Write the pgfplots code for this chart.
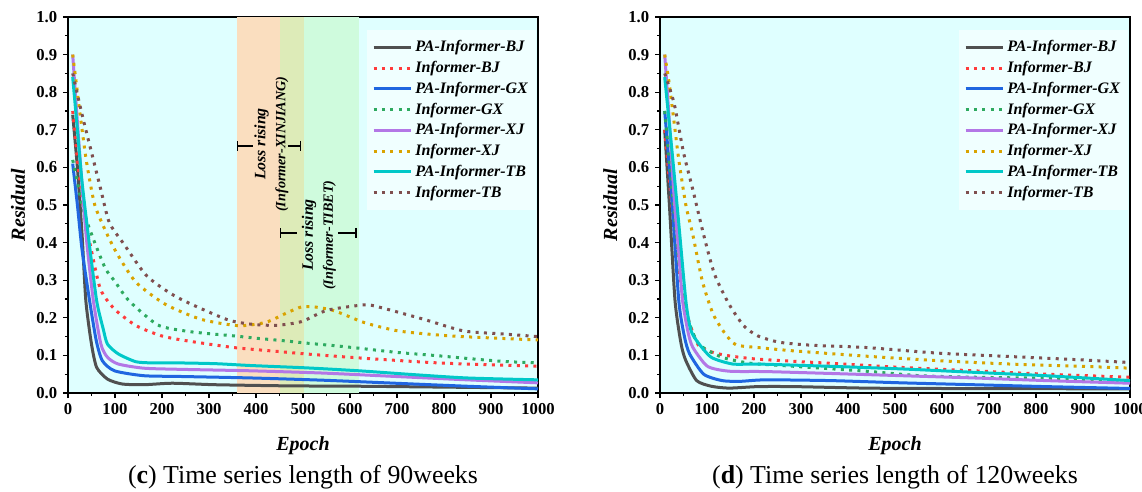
\documentclass[border=0pt]{standalone}
\usepackage{fontspec}
\setmainfont{Liberation Serif}
\usepackage{pgfplots}
\pgfplotsset{compat=1.18}
\usetikzlibrary{arrows.meta}

\definecolor{cbj}{HTML}{505050}
\definecolor{cbjd}{HTML}{FF3B3B}
\definecolor{cgx}{HTML}{1F66E0}
\definecolor{cgxd}{HTML}{2EAA60}
\definecolor{cxj}{HTML}{B377E6}
\definecolor{cxjd}{HTML}{D9A300}
\definecolor{ctb}{HTML}{00C8C8}
\definecolor{ctbd}{HTML}{7F4F4F}
\definecolor{bgcyan}{HTML}{DFFFFF}
\definecolor{legbg}{HTML}{F0FFFF}
\definecolor{bandor}{HTML}{FADEBF}
\definecolor{bandol}{HTML}{DDEBB8}
\definecolor{bandgr}{HTML}{CFFBDD}

\pgfplotsset{
  resid/.style={
    scale only axis, width=282pt, height=225.6pt,
    xmin=0, xmax=1000, ymin=0, ymax=1,
    xtick={0,100,...,1000}, ytick={0,0.1,...,1.0},
    minor x tick num=1, minor y tick num=1,
    xtick pos=bottom, ytick pos=left, tick align=outside,
    major tick length=3pt, minor tick length=1.8pt,
    every tick/.style={black, line width=0.8pt},
    axis line style={line width=0.9pt},
    axis background/.style={fill=bgcyan},
    /pgf/number format/assume math mode=true,
    tick label style={font=\fontsize{10}{12}\selectfont\bfseries},
    yticklabel style={/pgf/number format/.cd, fixed, fixed zerofill, precision=1},
    xticklabel style={/pgf/number format/.cd, fixed, 1000 sep={}},
    xlabel={Epoch}, ylabel={Residual},
    label style={font=\fontsize{12}{14}\selectfont\bfseries\itshape},
    xlabel style={at={(axis description cs:0.5,-0.141)}, anchor=center},
    ylabel style={at={(axis description cs:-0.106,0.5)}, anchor=center},
    legend style={at={(0.997,0.965)}, anchor=north east, draw=none, fill=legbg,
      font=\fontsize{9.6}{11}\selectfont\bfseries\itshape, row sep=0.2pt,
      inner xsep=3pt, inner ysep=4pt},
    legend cell align=left,
    legend image post style={xscale=1.3},
    clip=false,
  },
  pa/.style={line width=1.8pt, smooth, tension=0.4},
  inf/.style={line width=1.8pt, smooth, tension=0.4, dash pattern=on 1.8pt off 3.2pt},
}

\begin{document}
\begin{tikzpicture}
\path[use as bounding box] (-40.8pt,-58.8pt) rectangle (644.4pt,235.8pt);

% (c) 90 weeks
\begin{axis}[resid, at={(0pt,0pt)}, anchor=origin]
\fill[bandor] (axis cs:360,0) rectangle (axis cs:450,1);
\fill[bandol] (axis cs:450,0) rectangle (axis cs:502,1);
\fill[bandgr] (axis cs:502,0) rectangle (axis cs:620,1);

\addplot[pa, cbj] coordinates {(10,0.74) (20,0.6) (30,0.42) (38,0.245) (50,0.13) (61,0.068) (84,0.037) (115,0.024) (161,0.022) (222,0.026) (314,0.022) (467,0.019) (620,0.018) (773,0.016) (1000,0.013)};
\addlegendentry{PA-Informer-BJ}
\addplot[inf, cbjd] coordinates {(10,0.75) (20,0.62) (30,0.52) (40,0.44) (50,0.378) (69,0.276) (99,0.223) (145,0.179) (199,0.152) (252,0.139) (352,0.121) (451,0.11) (505,0.104) (589,0.096) (658,0.09) (773,0.081) (849,0.077) (1000,0.071)};
\addlegendentry{Informer-BJ}
\addplot[pa, cgx] coordinates {(10,0.61) (20,0.5) (30,0.38) (46,0.245) (60,0.14) (73,0.086) (99,0.059) (161,0.046) (237,0.044) (390,0.04) (543,0.034) (696,0.026) (849,0.018) (1000,0.011)};
\addlegendentry{PA-Informer-GX}
\addplot[inf, cgxd] coordinates {(10,0.62) (20,0.56) (30,0.5) (42,0.45) (60,0.39) (80,0.33) (99,0.298) (130,0.245) (191,0.181) (249,0.165) (298,0.158) (352,0.152) (406,0.145) (459,0.139) (513,0.132) (566,0.126) (620,0.119) (700,0.108) (788,0.099) (849,0.092) (926,0.084) (1000,0.08)};
\addlegendentry{Informer-GX}
\addplot[pa, cxj] coordinates {(10,0.9) (20,0.72) (30,0.55) (40,0.4) (54,0.245) (70,0.13) (84,0.095) (107,0.077) (161,0.066) (237,0.063) (390,0.059) (543,0.053) (696,0.044) (849,0.035) (1000,0.027)};
\addlegendentry{PA-Informer-XJ}
\addplot[inf, cxjd] coordinates {(10,0.9) (20,0.8) (30,0.7) (40,0.61) (57,0.5) (84,0.42) (107,0.365) (145,0.294) (207,0.236) (283,0.196) (363,0.179) (421,0.188) (467,0.214) (497,0.229) (524,0.229) (566,0.219) (624,0.19) (654,0.179) (708,0.164) (811,0.152) (926,0.145) (1000,0.141)};
\addlegendentry{Informer-XJ}
\addplot[pa, ctb] coordinates {(10,0.84) (20,0.7) (30,0.56) (45,0.4) (61,0.245) (75,0.17) (84,0.13) (107,0.104) (145,0.083) (184,0.08) (237,0.08) (314,0.078) (390,0.073) (505,0.067) (620,0.059) (734,0.049) (849,0.04) (1000,0.035)};
\addlegendentry{PA-Informer-TB}
\addplot[inf, ctbd] coordinates {(10,0.85) (30,0.74) (50,0.64) (70,0.54) (88,0.453) (119,0.396) (168,0.311) (233,0.254) (337,0.196) (390,0.183) (444,0.18) (497,0.19) (551,0.22) (627,0.234) (654,0.231) (757,0.196) (842,0.165) (926,0.157) (1000,0.15)};
\addlegendentry{Informer-TB}

\draw[line width=0.9pt, {Bar[width=6pt]}-] (axis cs:359,0.657) -- (axis cs:394,0.657);
\draw[line width=0.9pt, -{Bar[width=6pt]}] (axis cs:468,0.657) -- (axis cs:496,0.657);
\node[rotate=90, align=center, inner sep=0pt] at (axis cs:433,0.662)
  {\fontsize{9.5}{13}\selectfont\bfseries\itshape Loss rising\\
   \fontsize{8.5}{13}\selectfont\bfseries\itshape (Informer-XINJIANG)};
\draw[line width=0.9pt, {Bar[width=6pt]}-] (axis cs:451,0.426) -- (axis cs:487,0.426);
\draw[line width=0.9pt, -{Bar[width=6pt]}] (axis cs:574,0.426) -- (axis cs:614,0.426);
\node[rotate=90, align=center, inner sep=0pt] at (axis cs:534,0.42)
  {\fontsize{9.5}{13}\selectfont\bfseries\itshape Loss rising\\
   \fontsize{8.5}{13}\selectfont\bfseries\itshape (Informer-TIBET)};

\node[font=\fontsize{15.5}{17}\selectfont] at (rel axis cs:0.5,0) [yshift=-50.4pt] {(\textbf{c}) Time series length of 90weeks};
\end{axis}

% (d) 120 weeks
\begin{axis}[resid, at={(355.2pt,0pt)}, anchor=origin]
\addplot[pa, cbj] coordinates {(10,0.7) (20,0.5) (32,0.245) (45,0.13) (55,0.086) (78,0.033) (109,0.018) (147,0.013) (208,0.017) (285,0.017) (438,0.013) (592,0.012) (1000,0.011)};
\addlegendentry{PA-Informer-BJ}
\addplot[inf, cbjd] coordinates {(10,0.7) (25,0.5) (40,0.33) (55,0.22) (70,0.16) (86,0.121) (132,0.102) (208,0.09) (362,0.079) (515,0.068) (668,0.059) (821,0.05) (1000,0.042)};
\addlegendentry{Informer-BJ}
\addplot[pa, cgx] coordinates {(10,0.75) (25,0.52) (40,0.245) (52,0.15) (63,0.104) (93,0.05) (132,0.033) (170,0.031) (224,0.035) (362,0.033) (515,0.027) (668,0.022) (821,0.017) (1000,0.012)};
\addlegendentry{PA-Informer-GX}
\addplot[inf, cgxd] coordinates {(10,0.75) (25,0.55) (40,0.35) (55,0.22) (70,0.16) (86,0.126) (132,0.095) (193,0.079) (285,0.071) (438,0.058) (553,0.046) (668,0.042) (821,0.039) (1000,0.033)};
\addlegendentry{Informer-GX}
\addplot[pa, cxj] coordinates {(10,0.9) (20,0.72) (30,0.52) (40,0.37) (48,0.245) (60,0.16) (70,0.121) (101,0.071) (147,0.058) (224,0.057) (362,0.052) (515,0.046) (668,0.04) (821,0.033) (1000,0.026)};
\addlegendentry{PA-Informer-XJ}
\addplot[inf, cxjd] coordinates {(10,0.9) (20,0.82) (30,0.72) (40,0.62) (55,0.5) (70,0.42) (90,0.298) (113,0.21) (139,0.157) (162,0.128) (208,0.121) (285,0.112) (438,0.098) (592,0.086) (745,0.077) (898,0.071) (1000,0.066)};
\addlegendentry{Informer-XJ}
\addplot[pa, ctb] coordinates {(10,0.84) (25,0.65) (40,0.45) (55,0.245) (65,0.17) (78,0.139) (109,0.095) (155,0.077) (208,0.077) (362,0.071) (515,0.064) (668,0.055) (821,0.046) (1000,0.033)};
\addlegendentry{PA-Informer-TB}
\addplot[inf, ctbd] coordinates {(10,0.85) (30,0.77) (50,0.64) (70,0.54) (93,0.42) (116,0.316) (147,0.236) (178,0.179) (208,0.152) (254,0.135) (323,0.127) (438,0.121) (592,0.106) (745,0.097) (898,0.088) (1000,0.081)};
\addlegendentry{Informer-TB}

\node[font=\fontsize{15.5}{17}\selectfont] at (rel axis cs:0.5,0) [yshift=-50.4pt] {(\textbf{d}) Time series length of 120weeks};
\end{axis}
\end{tikzpicture}
\end{document}
